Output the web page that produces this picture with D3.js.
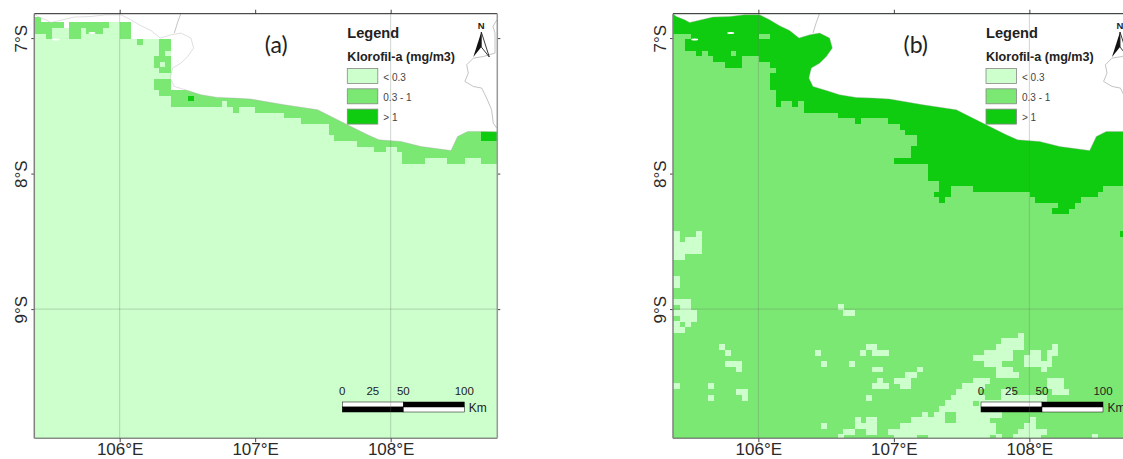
<!DOCTYPE html>
<html>
<head>
<meta charset="utf-8">
<script src="https://cdnjs.cloudflare.com/ajax/libs/d3/7.8.5/d3.min.js"></script>
<style>
  html, body { margin: 0; padding: 0; background: #fff; overflow: hidden; }
  svg { display: block; font-family: 'Liberation Sans', Arial, sans-serif; }
  .axis path, .axis line { stroke: #444; stroke-width: 1; }
  .axis text { font-size: 17px; fill: #2a2a2a; font-family: 'Liberation Sans', Arial, sans-serif; }
</style>
</head>
<body>
<div id="chart"></div>
<script>
// classes and ticks
var classLabels = ['< 0.3', '0.3 - 1', '> 1'];
var classColors = ['#ccffcc', '#7ce874', '#10cc10'];
var lonTicks = [106, 107, 108];
var latTicks = [7, 8, 9];
var lonGrid = [106, 108];
var latGrid = [9];
var scaleKm = [0, 25, 50, 100];

// coast, traced in degrees (lat is degrees south)
var coastLon = [105.368, 105.395, 105.456, 105.493, 105.579, 105.665, 105.788, 105.899, 106.010, 106.083, 106.157, 106.231, 106.300, 106.379, 106.452, 106.526, 106.546, 106.502, 106.452, 106.391, 106.373, 106.403, 106.502, 106.600, 106.723, 106.846, 106.969, 107.043, 107.215, 107.461, 107.633, 107.830, 107.914, 108.076, 108.224, 108.445, 108.494, 108.568, 108.666, 108.784];
var coastLat = [6.818, 6.841, 6.865, 6.885, 6.865, 6.845, 6.841, 6.828, 6.828, 6.865, 6.909, 6.944, 7.000, 6.976, 6.963, 7.000, 7.074, 7.136, 7.185, 7.221, 7.295, 7.357, 7.387, 7.418, 7.438, 7.443, 7.450, 7.463, 7.492, 7.529, 7.615, 7.714, 7.751, 7.763, 7.800, 7.830, 7.726, 7.689, 7.689, 7.692];
var borderWestLon = [106.451, 106.429, 106.403];
var borderWestLat = [6.820, 6.880, 6.963];
var borderEastLon = [108.784, 108.755, 108.770, 108.770, 108.683, 108.610, 108.561, 108.573, 108.548, 108.610, 108.672, 108.708, 108.745, 108.757, 108.782];
var borderEastLat = [6.865, 6.914, 6.963, 7.111, 7.136, 7.148, 7.197, 7.258, 7.320, 7.357, 7.369, 7.443, 7.529, 7.627, 7.664];
var isletLon = [105.53, 105.796];
var isletLat = [7.01, 6.963];

// raster panel (a): background class 0, rows white from the top, class 1 as [row, fromCol, toCol]
var blankDepthA = [1, 1, 2, 2, 2, 2, 3, 2, 2, 2, 2, 2, 2, 2, 2, 2, 2, 2, 5, 5, 5, 5, 5, 5, 5, 14, 14, 14, 14, 14, 14, 14, 14];
var midRunsA = [
  [1, 0, 1], [2, 0, 5], [3, 0, 3], [4, 3, 3],
  [2, 7, 13], [3, 7, 8], [3, 10, 12], [4, 7, 8],
  [2, 16, 17], [3, 16, 17], [4, 16, 17], [5, 19, 19],
  [5, 23, 24], [6, 23, 24], [7, 23, 23], [8, 22, 24], [9, 22, 22], [9, 24, 24], [10, 23, 24],
  [12, 22, 24], [13, 22, 24], [14, 23, 24]
];
// class 1 band along the coast, bottom row for columns 25 to 82, top hidden by land
var bandDepthA = [17, 17, 17, 17, 17, 17, 17, 17, 17, 16, 17, 18, 17, 17, 17, 18, 18, 18, 18, 18, 19, 19, 19, 20, 20, 20, 20, 20, 22, 23, 23, 23, 23, 24, 24, 24, 25, 25, 24, 24, 25, 27, 27, 27, 27, 26, 26, 26, 26, 27, 27, 27, 26, 26, 26, 27, 27, 27];
var highRunsA = [[15, 28, 28], [21, 80, 83], [22, 80, 83]];

// raster panel (b): background class 1, class 2 rows down from the top for each column
var highDepthB = [4, 4, 4, 7, 7, 8, 8, 8, 9, 9, 10, 10, 10, 8, 8, 8, 9, 9, 14, 17, 16, 16, 17, 16, 18, 18, 18, 18, 18, 18, 19, 19, 19, 20, 19, 19, 19, 19, 19, 20, 20, 21, 22, 27, 27, 27, 30, 33, 34, 33, 31, 31, 31, 31, 32, 32, 32, 32, 32, 32, 32, 32, 32, 32, 33, 34, 34, 34, 36, 36, 36, 35, 34, 33, 33, 33, 32, 31, 31, 31, 31, 31, 31, 31];
var highHolesB = [[3, 4], [6, 7], [11, 7], [16, 4], [17, 4], [18, 10], [43, 22], [43, 23], [47, 30], [47, 31], [68, 34]];
var highRunsB = [[26, 40, 42], [39, 80, 80]];
var lowRunsB = [
  [39, 0, 1], [39, 5, 5], [40, 0, 1], [40, 3, 5], [41, 0, 5], [42, 0, 5], [43, 0, 2],
  [47, 0, 1], [48, 0, 1],
  [51, 0, 3], [52, 2, 3], [53, 0, 4], [54, 2, 4], [55, 0, 1], [55, 3, 3], [56, 0, 2],
  [52, 30, 30], [53, 31, 32],
  [59, 9, 9], [60, 10, 10], [62, 10, 12], [63, 12, 12],
  [66, 0, 1], [66, 7, 7], [68, 7, 7], [67, 12, 13], [68, 13, 13],
  [60, 26, 26], [62, 27, 27], [62, 32, 32],
  [60, 34, 34], [59, 35, 36], [60, 36, 38], [63, 36, 37], [65, 37, 37], [66, 36, 38], [68, 35, 35],
  [65, 40, 40], [63, 44, 44], [64, 42, 43], [65, 41, 42], [66, 41, 42],
  [73, 27, 27], [72, 33, 33], [72, 35, 36], [73, 33, 36], [74, 35, 36], [74, 31, 32], [75, 30, 30],
  [57, 62, 62], [58, 59, 62], [59, 58, 62], [59, 68, 68],
  [60, 56, 60], [60, 64, 65], [60, 67, 68],
  [61, 54, 60], [61, 63, 65], [61, 67, 67],
  [62, 56, 58], [62, 63, 67], [63, 58, 60], [63, 66, 66], [64, 58, 61],
  [65, 54, 56], [65, 67, 69], [66, 52, 55], [66, 67, 69], [67, 51, 54], [67, 59, 60], [67, 68, 69], [67, 70, 70],
  [68, 50, 55], [68, 59, 66], [69, 49, 53], [69, 55, 66], [70, 48, 57], [71, 45, 45], [71, 47, 48], [71, 51, 58],
  [72, 43, 48], [72, 51, 56], [72, 64, 64], [73, 41, 57], [73, 63, 64],
  [74, 39, 57], [74, 62, 66], [75, 40, 43], [75, 46, 56], [75, 58, 58], [75, 61, 65], [75, 75, 75]
];

var width = 1123;
var height = 459;
var pxPerDeg = 135.5;
var gridLon0 = 105.335;
var gridLat0 = 6.799;
var cellDeg = 1 / 24;
var bandTopRow = 14;

var svg = d3.select('#chart').append('svg')
  .attr('width', width)
  .attr('height', height);

function expandRuns(runs) {
  var cells = [];
  runs.forEach(function(run) {
    d3.range(run[1], run[2] + 1).forEach(function(col) {
      cells.push({ col: col, row: run[0] });
    });
  });
  return cells;
}

function columnCells(depths, firstCol, fromRow) {
  var cells = [];
  depths.forEach(function(depth, i) {
    d3.range(fromRow, depth).forEach(function(row) {
      cells.push({ col: firstCol + i, row: row });
    });
  });
  return cells;
}

function drawPanel(id, left, title, bgClass, layers) {
  var top = 13.7;
  var panelW = 463;
  var panelH = 424.5;

  var xScale = d3.scaleLinear()
    .domain([105.37, 105.37 + panelW / pxPerDeg])
    .range([left, left + panelW]);
  var yScale = d3.scaleLinear()
    .domain([6.82, 6.82 + panelH / pxPerDeg])
    .range([top, top + panelH]);

  var panel = svg.append('g').attr('class', 'panel-' + id);

  panel.append('clipPath')
    .attr('id', 'clip-' + id)
    .append('rect')
    .attr('x', left)
    .attr('y', top)
    .attr('width', panelW)
    .attr('height', panelH);

  var map = panel.append('g').attr('clip-path', 'url(#clip-' + id + ')');

  map.append('rect')
    .attr('x', left)
    .attr('y', top)
    .attr('width', panelW)
    .attr('height', panelH)
    .attr('fill', classColors[bgClass]);

  // raster cells
  layers.forEach(function(layer) {
    map.append('g')
      .attr('shape-rendering', 'crispEdges')
      .selectAll('rect')
      .data(layer.cells)
      .enter()
      .append('rect')
      .attr('x', function(d) { return xScale(gridLon0 + d.col * cellDeg); })
      .attr('y', function(d) { return yScale(gridLat0 + d.row * cellDeg); })
      .attr('width', xScale(gridLon0 + cellDeg) - xScale(gridLon0) + 0.3)
      .attr('height', yScale(gridLat0 + cellDeg) - yScale(gridLat0) + 0.3)
      .attr('fill', layer.fill);
  });

  // land
  var coast = coastLon.map(function(lon, i) { return [xScale(lon), yScale(coastLat[i])]; });
  var line = d3.line();
  var landRing = [[xScale(105.3), yScale(6.818)]]
    .concat(coast)
    .concat([[xScale(108.9), yScale(7.692)], [xScale(108.9), yScale(6.7)], [xScale(105.3), yScale(6.7)]]);

  map.append('path')
    .attr('d', line(landRing) + 'Z')
    .attr('fill', '#fff');
  map.append('path')
    .attr('d', line(coast))
    .attr('fill', 'none')
    .attr('stroke', '#aaa')
    .attr('stroke-opacity', 0.55)
    .attr('stroke-width', 0.7);

  [[borderWestLon, borderWestLat], [borderEastLon, borderEastLat]].forEach(function(border) {
    map.append('path')
      .attr('d', line(border[0].map(function(lon, i) { return [xScale(lon), yScale(border[1][i])]; })))
      .attr('fill', 'none')
      .attr('stroke', '#b4b4b4')
      .attr('stroke-width', 0.8);
  });

  map.selectAll('.islet')
    .data(isletLon)
    .enter()
    .append('ellipse')
    .attr('class', 'islet')
    .attr('cx', function(d) { return xScale(d); })
    .attr('cy', function(d, i) { return yScale(isletLat[i]); })
    .attr('rx', 3.5)
    .attr('ry', 1)
    .attr('fill', '#fff');

  // graticule runs over everything, legend included
  var overlay = panel.append('g');

  var labelLon = d3.format('.0f');
  var xBottom = d3.axisBottom(xScale)
    .tickValues(lonTicks)
    .tickSize(4)
    .tickPadding(1)
    .tickFormat(function(d) { return labelLon(d) + '°E'; });
  var xTop = d3.axisTop(xScale).tickValues(lonTicks).tickSize(4).tickFormat('');
  var yLeft = d3.axisLeft(yScale)
    .tickValues(latTicks)
    .tickSize(3)
    .tickFormat(function(d) { return labelLon(d) + '°S'; });
  var yRight = d3.axisRight(yScale).tickValues(latTicks).tickSize(3).tickFormat('');

  overlay.append('g').attr('class', 'axis')
    .attr('transform', 'translate(0,' + (top + panelH) + ')')
    .call(xBottom);
  overlay.append('g').attr('class', 'axis')
    .attr('transform', 'translate(0,' + top + ')')
    .call(xTop);
  overlay.append('g').attr('class', 'axis')
    .attr('transform', 'translate(' + left + ',0)')
    .call(yLeft)
    .selectAll('text')
    .attr('x', 0)
    .attr('dy', 0)
    .attr('text-anchor', 'middle')
    .attr('transform', 'translate(-7,0) rotate(-90)');
  overlay.append('g').attr('class', 'axis')
    .attr('transform', 'translate(' + (left + panelW) + ',0)')
    .call(yRight);
  overlay.selectAll('.domain').remove();

  // frame
  overlay.append('line')
    .attr('x1', left).attr('x2', left + panelW).attr('y1', top).attr('y2', top)
    .attr('stroke', '#222').attr('stroke-width', 1);
  overlay.append('line')
    .attr('x1', left).attr('x2', left + panelW).attr('y1', top + panelH).attr('y2', top + panelH)
    .attr('stroke', '#555').attr('stroke-width', 1);
  overlay.append('line')
    .attr('x1', left).attr('x2', left).attr('y1', top).attr('y2', top + panelH)
    .attr('stroke', '#808080').attr('stroke-width', 1.5);
  overlay.append('line')
    .attr('x1', left + panelW).attr('x2', left + panelW).attr('y1', top).attr('y2', top + panelH)
    .attr('stroke', '#999').attr('stroke-width', 1.5);

  // legend
  var lx = left + 313;
  var legend = overlay.append('g');

  legend.append('text')
    .attr('x', lx)
    .attr('y', 37.5)
    .attr('font-size', 14.6)
    .attr('font-weight', 'bold')
    .attr('fill', '#222')
    .text('Legend');
  legend.append('text')
    .attr('x', lx)
    .attr('y', 61)
    .attr('font-size', 12.6)
    .attr('font-weight', 'bold')
    .attr('fill', '#222')
    .text('Klorofil-a (mg/m3)');

  var legendRow = legend.selectAll('.legend-row')
    .data(classLabels)
    .enter()
    .append('g')
    .attr('class', 'legend-row')
    .attr('transform', function(d, i) { return 'translate(' + lx + ',' + (68.5 + i * 20.3) + ')'; });
  legendRow.append('rect')
    .attr('width', 30.5)
    .attr('height', 15)
    .attr('fill', function(d, i) { return classColors[i]; })
    .attr('stroke', '#888')
    .attr('stroke-width', 0.8);
  legendRow.append('text')
    .attr('x', 36)
    .attr('y', 12)
    .attr('font-size', 10)
    .attr('fill', '#444')
    .text(function(d) { return d; });

  // panel letter
  overlay.append('text')
    .attr('x', left + 230.5)
    .attr('y', 52.5)
    .attr('font-family', 'Lato, sans-serif')
    .attr('font-size', 23)
    .attr('fill', '#222')
    .text(title);

  // north arrow
  var nx = left + 447;
  overlay.append('text')
    .attr('x', nx)
    .attr('y', 28.5)
    .attr('text-anchor', 'middle')
    .attr('font-size', 9.5)
    .attr('font-weight', 'bold')
    .attr('fill', '#222')
    .text('N');
  overlay.append('path')
    .attr('d', 'M' + nx + ',32L' + (nx - 8) + ',57L' + nx + ',47Z')
    .attr('fill', '#111');
  overlay.append('path')
    .attr('d', 'M' + nx + ',32L' + (nx + 8) + ',57L' + nx + ',47Z')
    .attr('fill', '#fff')
    .attr('stroke', '#222')
    .attr('stroke-width', 0.9);

  // scale bar
  var kmScale = d3.scaleLinear()
    .domain([0, 100])
    .range([left + 308, left + 430]);
  var barY = 402;
  var barH = 5;

  [[0, 50, 0], [50, 100, 1]].forEach(function(part) {
    var x0 = kmScale(part[0]);
    var w = kmScale(part[1]) - x0;
    overlay.append('rect')
      .attr('x', x0).attr('y', barY).attr('width', w).attr('height', barH)
      .attr('fill', part[2] ? '#000' : '#fff').attr('stroke', '#000').attr('stroke-width', 0.5);
    overlay.append('rect')
      .attr('x', x0).attr('y', barY + barH).attr('width', w).attr('height', barH)
      .attr('fill', part[2] ? '#fff' : '#000').attr('stroke', '#000').attr('stroke-width', 0.5);
  });

  overlay.selectAll('.km')
    .data(scaleKm)
    .enter()
    .append('text')
    .attr('class', 'km')
    .attr('x', function(d) { return kmScale(d); })
    .attr('y', 394.5)
    .attr('text-anchor', 'middle')
    .attr('font-size', 11.5)
    .attr('fill', '#222')
    .text(function(d) { return d; });
  overlay.append('text')
    .attr('x', kmScale(100) + 4.5)
    .attr('y', 412)
    .attr('font-size', 12)
    .attr('fill', '#222')
    .text('Km');

  // graticule
  var grid = overlay.append('g');
  grid.selectAll('.grid-lon')
    .data(lonGrid)
    .enter()
    .append('line')
    .attr('x1', function(d) { return xScale(d); })
    .attr('x2', function(d) { return xScale(d); })
    .attr('y1', top)
    .attr('y2', top + panelH)
    .attr('stroke', '#5f6f5f')
    .attr('stroke-opacity', 0.3);
  grid.selectAll('.grid-lat')
    .data(latGrid)
    .enter()
    .append('line')
    .attr('x1', left)
    .attr('x2', left + panelW)
    .attr('y1', function(d) { return yScale(d); })
    .attr('y2', function(d) { return yScale(d); })
    .attr('stroke', '#5f6f5f')
    .attr('stroke-opacity', 0.3);
}

// panel a
drawPanel('a', 34.3, '(a)', 0, [
  { fill: '#fff', cells: columnCells(blankDepthA, 0, 0) },
  { fill: classColors[1], cells: expandRuns(midRunsA).concat(columnCells(bandDepthA, 25, bandTopRow)) },
  { fill: classColors[2], cells: expandRuns(highRunsA) }
]);

// panel b
var holeKeys = highHolesB.map(function(d) { return d[0] + '-' + d[1]; });
var highCellsB = columnCells(highDepthB, 0, 0)
  .filter(function(d) { return holeKeys.indexOf(d.col + '-' + d.row) < 0; })
  .concat(expandRuns(highRunsB));

drawPanel('b', 673, '(b)', 1, [
  { fill: classColors[2], cells: highCellsB },
  { fill: classColors[0], cells: expandRuns(lowRunsB) }
]);
</script>
</body>
</html>
